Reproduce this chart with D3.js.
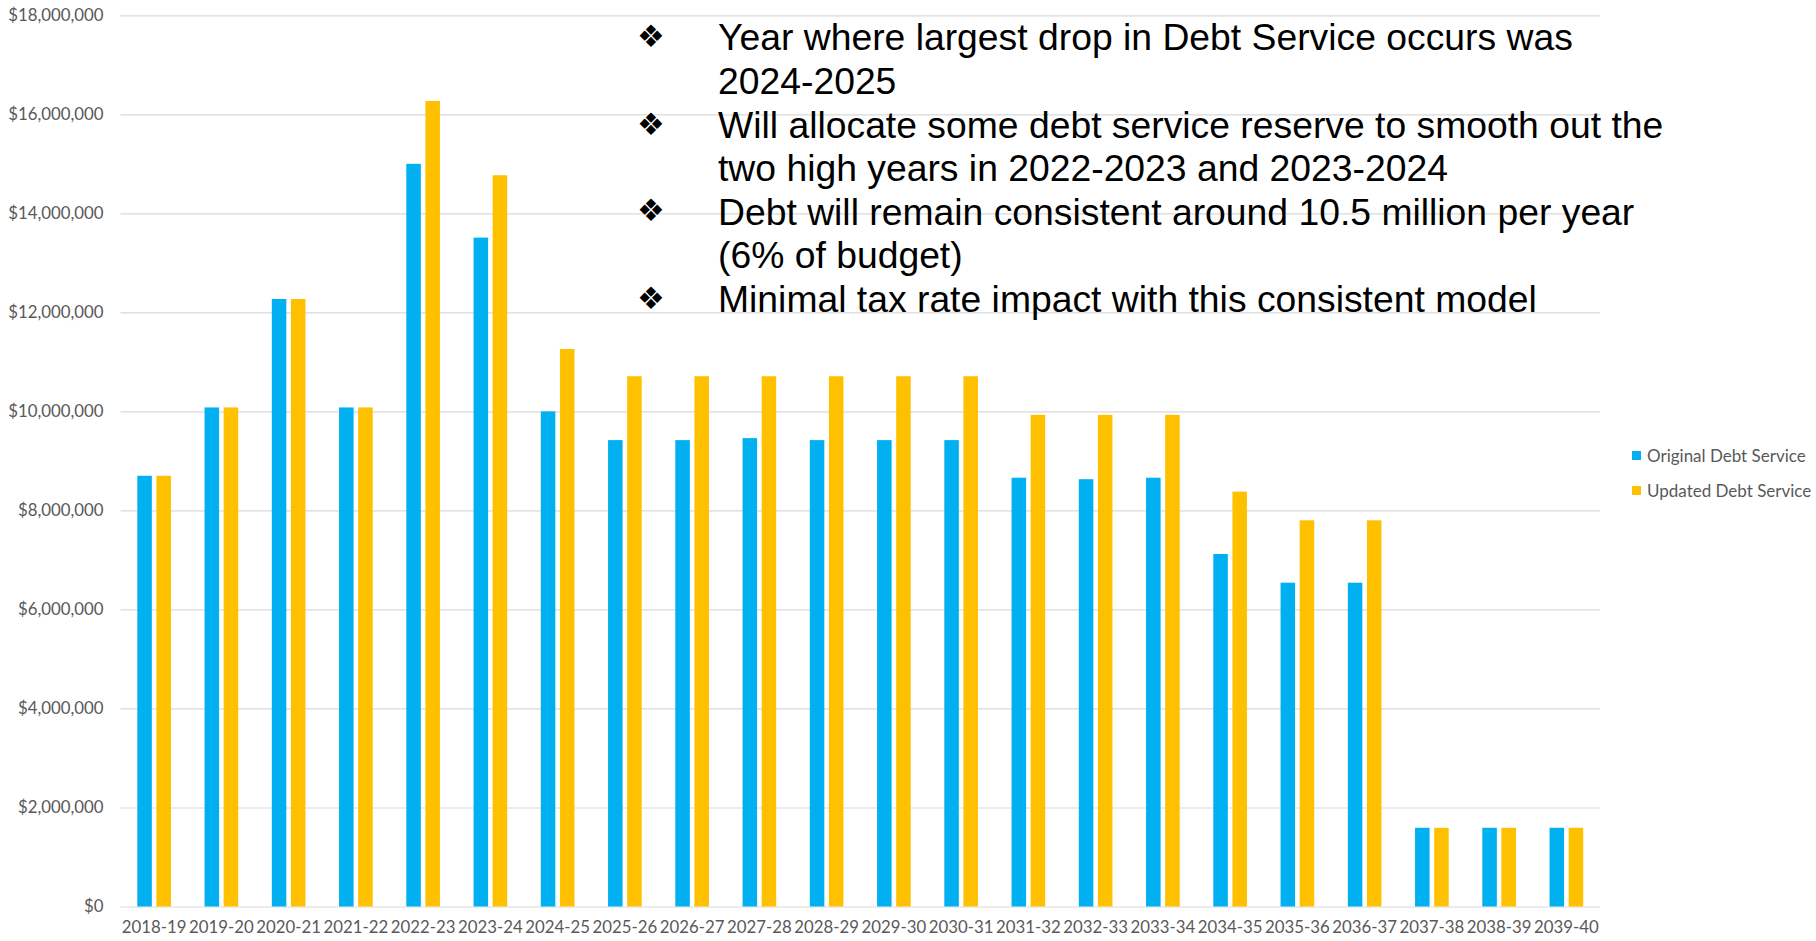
<!DOCTYPE html>
<html>
<head>
<meta charset="utf-8">
<script src="https://cdn.jsdelivr.net/npm/d3@7"></script>
<style>
  html, body { margin: 0; padding: 0; background: #ffffff; }
  svg { display: block; }
</style>
</head>
<body>
<svg id="chart" width="1816" height="941"></svg>
<script>
const categories = ["2018-19","2019-20","2020-21","2021-22","2022-23","2023-24","2024-25","2025-26","2026-27","2027-28","2028-29","2029-30","2030-31","2031-32","2032-33","2033-34","2034-35","2035-36","2036-37","2037-38","2038-39","2039-40"];
const originalDebtService = [8700000,10080000,12270000,10080000,15000000,13510000,10000000,9420000,9420000,9460000,9420000,9420000,9420000,8660000,8630000,8660000,7120000,6540000,6540000,1590000,1590000,1590000];
const updatedDebtService  = [8700000,10080000,12270000,10080000,16270000,14770000,11260000,10710000,10710000,10710000,10710000,10710000,10710000,9930000,9930000,9930000,8380000,7800000,7800000,1590000,1590000,1590000];
const seriesNames = ["Original Debt Service","Updated Debt Service"];
const yTickValues = [0,2000000,4000000,6000000,8000000,10000000,12000000,14000000,16000000,18000000];
const bulletLines = [
  {bullet: true,  text: "Year where largest drop in Debt Service occurs was"},
  {bullet: false, text: "2024-2025"},
  {bullet: true,  text: "Will allocate some debt service reserve to smooth out the"},
  {bullet: false, text: "two high years in 2022-2023 and 2023-2024"},
  {bullet: true,  text: "Debt will remain consistent around 10.5 million per year"},
  {bullet: false, text: "(6% of budget)"},
  {bullet: true,  text: "Minimal tax rate impact with this consistent model"}
];

const colors = {"Original Debt Service": "#00B0F0", "Updated Debt Service": "#FFC000"};
const svg = d3.select("#chart");

const plot = {left: 120.5, right: 1600, top: 15.3, bottom: 906.5};

const x0 = d3.scaleBand().domain(categories).range([plot.left, plot.right]).paddingInner(0).paddingOuter(0);
const bw = x0.bandwidth();
const x1 = d3.scaleBand().domain(seriesNames).range([bw * 0.25, bw * 0.75]).paddingInner(0.24).paddingOuter(0);
const y = d3.scaleLinear().domain([0, 18000000]).range([plot.bottom, plot.top]);

// gridlines + y labels via axis
const yAxis = d3.axisLeft(y).tickValues(yTickValues)
  .tickFormat(d => "$" + d3.format(",")(d))
  .tickSize(-(plot.right - plot.left)).tickPadding(17);
const gy = svg.append("g").attr("transform", `translate(${plot.left},0)`).call(yAxis);
gy.select(".domain").remove();
gy.selectAll(".tick line").attr("stroke", "#D9D9D9").attr("stroke-width", 1.2);
gy.selectAll(".tick text").attr("fill", "#595959")
  .style("font-family", "Lato, 'Open Sans', sans-serif").style("font-size", "16.8px");

// bars
const data = categories.map((c, i) => ({cat: c, vals: [
  {name: seriesNames[0], v: originalDebtService[i]},
  {name: seriesNames[1], v: updatedDebtService[i]}
]}));
const groups = svg.append("g").selectAll("g").data(data).join("g")
  .attr("transform", d => `translate(${x0(d.cat)},0)`);
groups.selectAll("rect").data(d => d.vals).join("rect")
  .attr("x", d => x1(d.name))
  .attr("width", x1.bandwidth())
  .attr("y", d => y(d.v))
  .attr("height", d => y(0) - y(d.v))
  .attr("fill", d => colors[d.name]);

// x axis labels
const xAxis = d3.axisBottom(x0).tickSize(0).tickPadding(15);
const gx = svg.append("g").attr("transform", `translate(0,${plot.bottom})`).call(xAxis);
gx.select(".domain").remove();
gx.selectAll(".tick text").attr("fill", "#595959")
  .style("font-family", "Lato, 'Open Sans', sans-serif").style("font-size", "16.8px");

// legend
const legend = svg.append("g").attr("transform", "translate(1632,456)");
seriesNames.forEach((n, i) => {
  const g = legend.append("g").attr("transform", `translate(0,${i * 35})`);
  g.append("rect").attr("x", 0).attr("y", -5).attr("width", 9).attr("height", 9).attr("fill", colors[n]);
  g.append("text").attr("x", 15).attr("y", 0).attr("dy", "0.35em")
    .attr("fill", "#595959")
    .style("font-family", "Lato, 'Open Sans', sans-serif").style("font-size", "17px")
    .text(n);
});

// bullet text box
const baselines = [50, 93.5, 138, 181, 224.5, 268, 312];
const tb = svg.append("g");
bulletLines.forEach((l, i) => {
  if (l.bullet) {
    tb.append("text").attr("x", 651).attr("y", baselines[i] - 14).attr("dy", "0.35em")
      .attr("text-anchor", "middle").attr("fill", "#000")
      .style("font-family", "'DejaVu Sans', sans-serif").style("font-size", "31px")
      .text("\u2756");
  }
  tb.append("text").attr("x", 718).attr("y", baselines[i]).attr("fill", "#000")
    .style("font-family", "'Liberation Sans', Arial, sans-serif").style("font-size", "37.3px")
    .text(l.text);
});
</script>
</body>
</html>
